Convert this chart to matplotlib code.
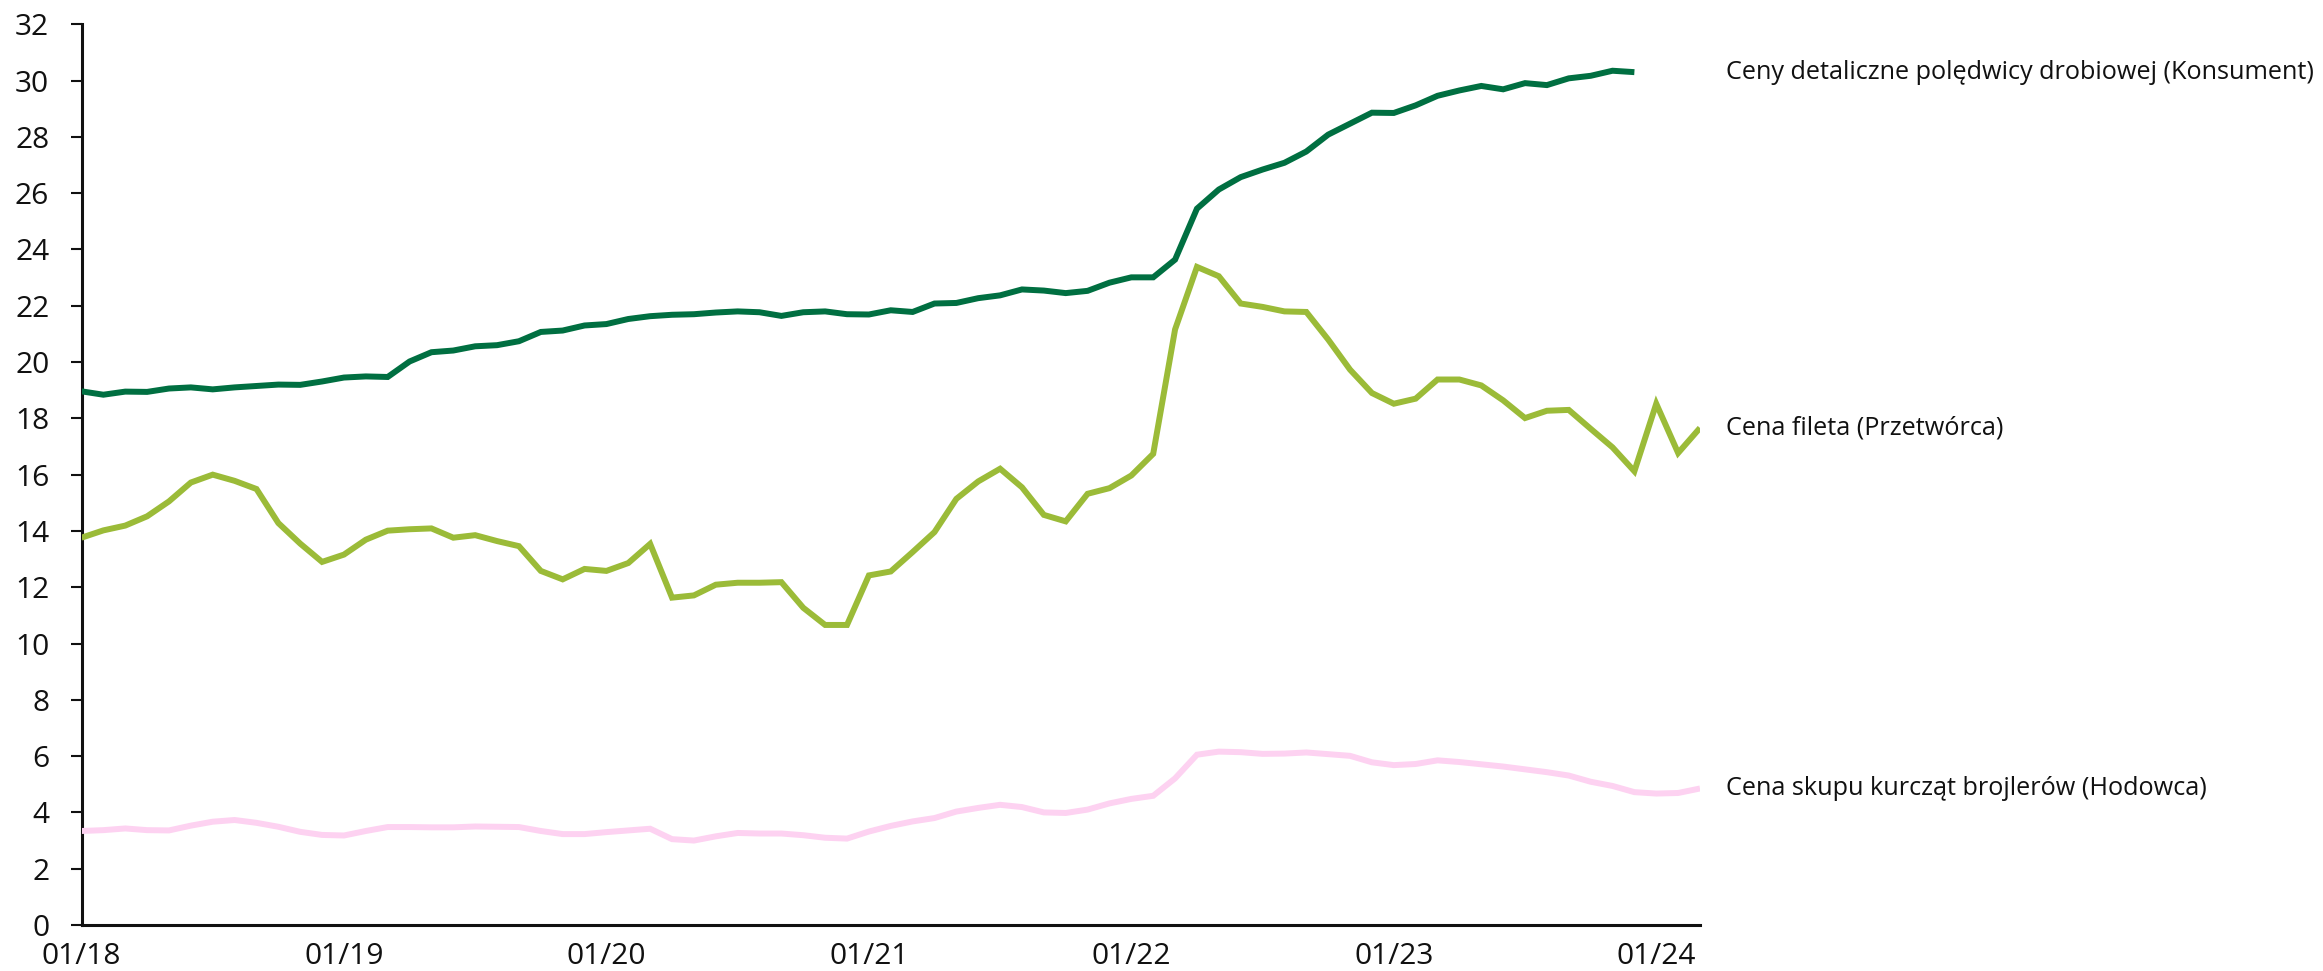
import numpy as np
import matplotlib
matplotlib.use("Agg")
import matplotlib.pyplot as plt

plt.rcParams['font.family'] = ['Open Sans', 'DejaVu Sans']

tick_labels = ["01/18", "01/19", "01/20", "01/21", "01/22", "01/23", "01/24"]

konsument = [18.96, 18.84, 18.95, 18.94, 19.06, 19.10, 19.03, 19.10, 19.15, 19.20,
             19.19, 19.31, 19.45, 19.49, 19.47, 20.02, 20.35, 20.41, 20.56, 20.60,
             20.74, 21.07, 21.12, 21.30, 21.35, 21.53, 21.63, 21.68, 21.70, 21.76,
             21.80, 21.77, 21.64, 21.77, 21.80, 21.70, 21.69, 21.84, 21.78, 22.08,
             22.10, 22.27, 22.37, 22.58, 22.54, 22.45, 22.53, 22.82, 23.01, 23.01,
             23.64, 25.45, 26.13, 26.57, 26.84, 27.08, 27.48, 28.08, 28.47, 28.86,
             28.85, 29.12, 29.46, 29.65, 29.81, 29.69, 29.91, 29.84, 30.08, 30.17,
             30.35, 30.30]

przetworca = [13.76, 14.02, 14.19, 14.52, 15.05, 15.72, 16.00, 15.78, 15.49, 14.28,
              13.55, 12.90, 13.16, 13.69, 14.01, 14.06, 14.09, 13.76, 13.85, 13.64,
              13.46, 12.58, 12.28, 12.65, 12.58, 12.86, 13.54, 11.63, 11.71, 12.09,
              12.16, 12.16, 12.18, 11.27, 10.66, 10.66, 12.42, 12.56, 13.25, 13.96,
              15.14, 15.76, 16.21, 15.55, 14.57, 14.34, 15.32, 15.52, 15.97, 16.74,
              21.16, 23.38, 23.05, 22.08, 21.96, 21.80, 21.78, 20.80, 19.73, 18.90,
              18.52, 18.70, 19.38, 19.38, 19.17, 18.64, 18.01, 18.27, 18.30, 17.63,
              16.97, 16.12, 18.52, 16.77, 17.66]

hodowca = [3.34, 3.37, 3.43, 3.37, 3.36, 3.53, 3.67, 3.73, 3.63, 3.49,
           3.31, 3.20, 3.18, 3.34, 3.48, 3.48, 3.47, 3.47, 3.50, 3.49,
           3.48, 3.34, 3.23, 3.23, 3.30, 3.36, 3.42, 3.05, 3.00, 3.15,
           3.27, 3.25, 3.25, 3.19, 3.10, 3.07, 3.32, 3.52, 3.68, 3.80,
           4.03, 4.16, 4.27, 4.19, 4.00, 3.98, 4.10, 4.32, 4.48, 4.59,
           5.21, 6.05, 6.16, 6.14, 6.08, 6.09, 6.13, 6.07, 6.01, 5.78,
           5.68, 5.72, 5.85, 5.79, 5.71, 5.63, 5.53, 5.43, 5.31, 5.09,
           4.94, 4.72, 4.67, 4.69, 4.85]

series_names = ["Ceny detaliczne polędwicy drobiowej (Konsument)",
                "Cena fileta (Przetwórca)",
                "Cena skupu kurcząt brojlerów (Hodowca)"]
series_colors = ["#006F41", "#9BBB38", "#FDD2F1"]

W, H = 2323, 971
fig = plt.figure(figsize=(W / 100, H / 100), dpi=100)
left, right, top, bottom = 81.5, 1700, 24.3, 925
ax = fig.add_axes([left / W, (H - bottom) / H, (right - left) / W, (bottom - top) / H])

n_months = len(przetworca)
all_series = [konsument, przetworca, hodowca]
for vals, name, col in zip(all_series, series_names, series_colors):
    x = np.arange(len(vals))
    ax.plot(x, vals, color=col, lw=4.3, solid_joinstyle='miter', solid_capstyle='butt', zorder=3)
    ax.annotate(name, xy=(1, vals[-1]), xycoords=('axes fraction', 'data'),
                xytext=(19, 0), textcoords='offset points',
                va='center', ha='left', fontsize=18.2, color='#111111',
                annotation_clip=False)

ax.set_xlim(0, n_months - 1)
ax.set_ylim(0, 32)
ax.set_yticks(np.arange(0, 33, 2))
ax.set_xticks(np.arange(0, n_months, 12))
ax.set_xticklabels(tick_labels)

for s in ['top', 'right']:
    ax.spines[s].set_visible(False)
for s in ['left', 'bottom']:
    ax.spines[s].set_linewidth(2.2)
    ax.spines[s].set_color('#111111')

ax.tick_params(axis='y', direction='out', length=8.2, width=1.5, pad=15,
               labelsize=21.5, colors='#111111')
ax.tick_params(axis='x', length=0, pad=12, labelsize=21.5, colors='#111111')

fig.savefig("out.png", dpi=100)
